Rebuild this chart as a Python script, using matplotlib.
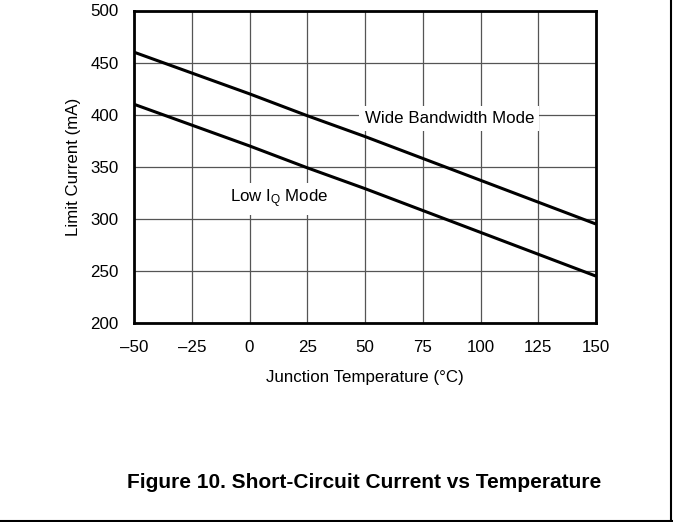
import matplotlib
matplotlib.use("Agg")
import matplotlib.pyplot as plt
from matplotlib.lines import Line2D

plt.rcParams['font.family'] = ['Liberation Sans', 'DejaVu Sans']
plt.rcParams['mathtext.fontset'] = 'custom'
plt.rcParams['mathtext.rm'] = 'Liberation Sans'
plt.rcParams['mathtext.it'] = 'Liberation Sans'

temperature = [-50, -25, 0, 25, 50, 75, 100, 125, 150]
wide_bw = [460, 440, 420, 399, 379, 358, 337, 316, 295]
low_iq = [410, 390, 370, 349, 329, 308, 287, 266, 245]
xticks = [-50, -25, 0, 25, 50, 75, 100, 125, 150]
xtick_labels = ['–50', '–25', '0', '25', '50', '75', '100', '125', '150']
yticks = [200, 250, 300, 350, 400, 450, 500]

FS = 12.2

fig = plt.figure(figsize=(6.73, 5.22), dpi=100)
ax = fig.add_axes([134/673, 1-323/522, 462/673, 312.5/522])

ax.plot(temperature, wide_bw, color='black', lw=2.2, solid_capstyle='butt', zorder=3)
ax.plot(temperature, low_iq, color='black', lw=2.2, solid_capstyle='butt', zorder=3)

ax.set_xlim(-50, 150)
ax.set_ylim(200, 500)
ax.set_xticks(xticks)
ax.set_xticklabels(xtick_labels)
ax.set_yticks(yticks)
ax.tick_params(axis='both', length=0, labelsize=FS)
ax.tick_params(axis='x', pad=12)
ax.tick_params(axis='y', pad=11)
ax.grid(True, color='#555555', lw=0.9, zorder=1)
ax.set_axisbelow(True)
for s in ax.spines.values():
    s.set_linewidth(2)
    s.set_color('black')
    s.set_zorder(4)

ax.set_xlabel('Junction Temperature (°C)', fontsize=FS, labelpad=11)
ax.set_ylabel('Limit Current (mA)', fontsize=FS, labelpad=7)

ax.text(86.5, 396, 'Wide Bandwidth Mode', fontsize=FS, ha='center', va='center',
        bbox=dict(boxstyle='square,pad=0.3', fc='white', ec='none'), zorder=2)
ax.text(13, 319, r'Low I$_\mathregular{Q}$ Mode', fontsize=FS, ha='center', va='center',
        bbox=dict(boxstyle='square,pad=0.3', fc='white', ec='none'), zorder=2)

fig.text(364/673, 1-482/522, 'Figure 10. Short-Circuit Current vs Temperature',
         fontsize=15, fontweight='bold', ha='center', va='center')

fig.add_artist(Line2D([671/673, 671/673], [0, 1], transform=fig.transFigure, color='black', lw=1.5))
fig.add_artist(Line2D([0, 1], [1-520.5/522, 1-520.5/522], transform=fig.transFigure, color='black', lw=1.5))

fig.savefig('out.png', dpi=100)
